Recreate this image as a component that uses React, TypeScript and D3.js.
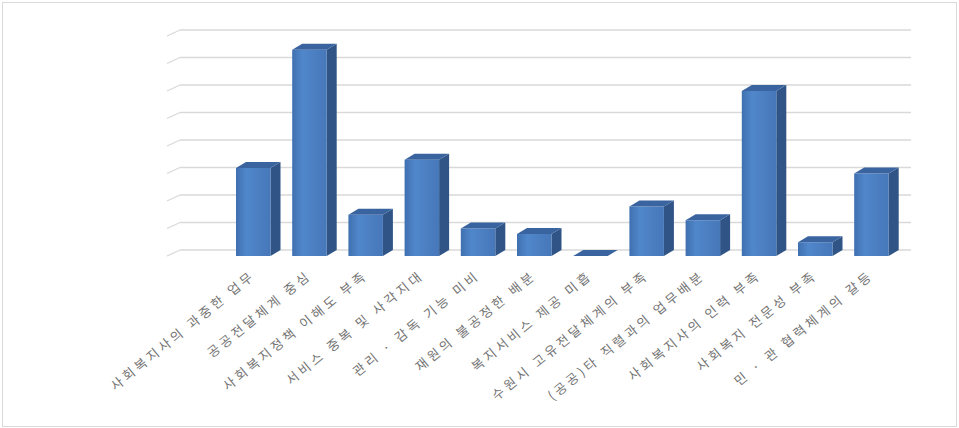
import React from "react";
import * as d3 from "d3";

const categories: string[] = [
  "사회복지사의 과중한 업무",
  "공공전달체계 중심",
  "사회복지정책 이해도 부족",
  "서비스 중복 및 사각지대",
  "관리 · 감독 기능 미비",
  "재원의 불공정한 배분",
  "복지서비스 제공 미흡",
  "수원시 고유전달체계의 부족",
  "(공공)타 직렬과의 업무배분",
  "사회복지사의 인력 부족",
  "사회복지 전문성 부족",
  "민 · 관 협력체계의 갈등",
];
const values: number[] = [16, 37.5, 7.5, 17.5, 5, 4, 0, 9, 6.5, 30, 2.5, 15];
const gridTicks: number[] = [0, 5, 10, 15, 20, 25, 30, 35, 40];

const W = 959;
const H = 428;
const DX = 10;
const DY = 6;
const FLOOR_BACK = 250;

export default function App() {
  const y = d3.scaleLinear().domain([0, 40]).range([FLOOR_BACK, 30]);
  const x = d3
    .scaleBand<string>()
    .domain(categories)
    .range([225.15, 899.55])
    .paddingInner(0.386)
    .paddingOuter(0.193);
  const bw = x.bandwidth();

  return (
    <div style={{ position: "absolute", left: 0, top: 0, width: W, height: H, background: "#fff" }}>
      <svg width={W} height={H} style={{ display: "block" }}>
        <defs>
          <linearGradient id="frontGrad" x1="0" x2="1" y1="0" y2="0">
            <stop offset="0" stopColor="#3f70b0" />
            <stop offset="0.3" stopColor="#5087cb" />
            <stop offset="1" stopColor="#4677b9" />
          </linearGradient>
        </defs>
        <rect x={2.5} y={2.5} width={W - 5} height={H - 4} fill="#fff" stroke="#d9d9d9" />
        {gridTicks.map((t) => {
          const yy = y(t);
          return (
            <g key={t} stroke="#d9d9d9" strokeWidth={1.3} fill="none">
              <line x1={180} x2={911} y1={yy} y2={yy} />
              <line x1={167} x2={180} y1={yy + 6} y2={yy} />
            </g>
          );
        })}
        {categories.map((c, i) => {
          const x0 = x(c) as number;
          const x1 = x0 + bw;
          const yb = y(values[i]);
          const yf = yb + DY;
          const bottom = FLOOR_BACK + DY;
          return (
            <g key={c}>
              <polygon
                points={`${x1},${yf} ${x1 + DX},${yf - DY} ${x1 + DX},${FLOOR_BACK} ${x1},${bottom}`}
                fill="#2f5485"
              />
              {values[i] > 0 && (
                <rect x={x0} y={yf} width={bw} height={bottom - yf} fill="url(#frontGrad)" />
              )}
              <polygon
                points={`${x0},${yf} ${x0 + DX},${yf - DY} ${x1 + DX},${yf - DY} ${x1},${yf}`}
                fill="#3a64a0"
              />
            </g>
          );
        })}
        {categories.map((c) => {
          const cx = (x(c) as number) + bw / 2;
          return (
            <text
              key={c}
              transform={`translate(${cx + 3},${277}) rotate(-39)`}
              textAnchor="end"
              fontFamily="'Noto Sans CJK KR', 'Noto Sans', sans-serif"
              fontSize={13}
              letterSpacing={3.4}
              fill="#737373"
            >
              {c}
            </text>
          );
        })}
      </svg>
    </div>
  );
}
